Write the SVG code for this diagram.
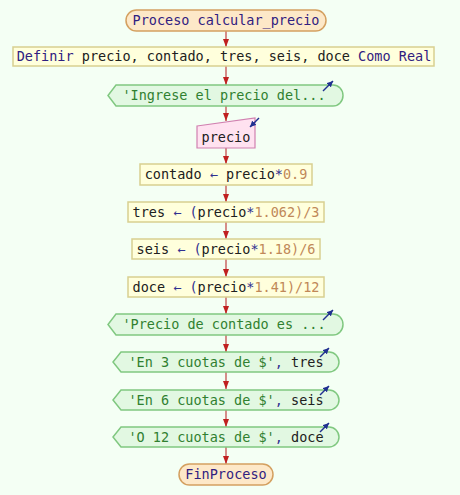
<svg xmlns="http://www.w3.org/2000/svg" width="460" height="495" viewBox="0 0 460 495">
<defs>
<style>
text{font-family:"DejaVu Sans Mono","Liberation Mono",monospace;font-size:13.5px;text-anchor:middle;fill:#202020}
.term{fill:#fde8c8;stroke:#d4a060;stroke-width:1.5}
.proc{fill:#ffffdc;stroke:#d8d090;stroke-width:1.5}
.out{fill:#e2f8e2;stroke:#80c880;stroke-width:1.5}
.inp{fill:#ffe2f0;stroke:#d080b0;stroke-width:1.2}
.kw{fill:#302080}
.op{fill:#303090}
.num{fill:#c08858}
.str{fill:#308030}
.conn{stroke:#c04040;stroke-width:1.2;fill:none}
.io{stroke:#203090;stroke-width:1.5;fill:none}
</style>
<marker id="ah" viewBox="0 0 8 6" refX="8" refY="3" markerWidth="8" markerHeight="6" markerUnits="userSpaceOnUse" orient="auto"><path d="M0,0 L8,3 L0,6 Z" fill="#c02020"/></marker>
<marker id="ib" viewBox="0 0 6 6" refX="6" refY="3" markerWidth="6" markerHeight="6" markerUnits="userSpaceOnUse" orient="auto"><path d="M0,0 L6,3 L0,6 Z" fill="#203090"/></marker>
</defs>
<rect width="460" height="495" fill="#f4fff4"/>
<g id="connectors">
<line class="conn" x1="226" y1="31" x2="226" y2="47" marker-end="url(#ah)"/>
<line class="conn" x1="226" y1="66" x2="226" y2="85" marker-end="url(#ah)"/>
<line class="conn" x1="226" y1="106" x2="226" y2="121" marker-end="url(#ah)"/>
<line class="conn" x1="226" y1="148" x2="226" y2="164" marker-end="url(#ah)"/>
<line class="conn" x1="226" y1="185" x2="226" y2="202" marker-end="url(#ah)"/>
<line class="conn" x1="226" y1="222" x2="226" y2="239" marker-end="url(#ah)"/>
<line class="conn" x1="226" y1="259" x2="226" y2="277" marker-end="url(#ah)"/>
<line class="conn" x1="226" y1="297" x2="226" y2="314" marker-end="url(#ah)"/>
<line class="conn" x1="226" y1="335" x2="226" y2="352" marker-end="url(#ah)"/>
<line class="conn" x1="226" y1="372" x2="226" y2="389" marker-end="url(#ah)"/>
<line class="conn" x1="226" y1="410" x2="226" y2="427" marker-end="url(#ah)"/>
<line class="conn" x1="226" y1="447" x2="226" y2="464" marker-end="url(#ah)"/>
</g>
<g id="n1">
<rect class="term" x="126" y="10" width="200" height="21" rx="10.5"/>
<text x="226" y="25"><tspan class="kw">Proceso calcular_precio</tspan></text>
</g>
<g id="n2">
<rect class="proc" x="13" y="47" width="421" height="19"/>
<text x="224" y="61"><tspan class="kw">Definir</tspan> precio, contado, tres, seis, doce <tspan class="kw">Como Real</tspan></text>
</g>
<g id="n3">
<path class="out" d="M116,85 H333 A10,10.5 0 0 1 333,106 H116 L108,95.5 Z"/>
<text x="224" y="100"><tspan class="str">'Ingrese el precio del...</tspan></text>
<line class="io" x1="323" y1="91" x2="333" y2="81" marker-end="url(#ib)"/>
</g>
<g id="n4">
<path class="inp" d="M197,126 L255,118 V148 H197 Z"/>
<text x="226" y="142">precio</text>
<line class="io" x1="259" y1="118" x2="250" y2="127" marker-end="url(#ib)"/>
</g>
<g id="n5">
<rect class="proc" x="140" y="164" width="172" height="21"/>
<text x="226" y="179">contado <tspan class="op">←</tspan> precio<tspan class="op">*</tspan><tspan class="num">0.9</tspan></text>
</g>
<g id="n6">
<rect class="proc" x="128" y="202" width="196" height="20"/>
<text x="226" y="216.5">tres <tspan class="op">← (</tspan>precio<tspan class="op">*</tspan><tspan class="num">1.062)/3</tspan></text>
</g>
<g id="n7">
<rect class="proc" x="132" y="239" width="188" height="20"/>
<text x="226" y="253.5">seis <tspan class="op">← (</tspan>precio<tspan class="op">*</tspan><tspan class="num">1.18)/6</tspan></text>
</g>
<g id="n8">
<rect class="proc" x="128" y="277" width="196" height="20"/>
<text x="226" y="291.5">doce <tspan class="op">← (</tspan>precio<tspan class="op">*</tspan><tspan class="num">1.41)/12</tspan></text>
</g>
<g id="n9">
<path class="out" d="M116,314 H333 A10,10.5 0 0 1 333,335 H116 L108,324.5 Z"/>
<text x="224" y="329"><tspan class="str">'Precio de contado es ...</tspan></text>
<line class="io" x1="323" y1="320" x2="333" y2="310" marker-end="url(#ib)"/>
</g>
<g id="n10">
<path class="out" d="M121,352 H329 A10,10 0 0 1 329,372 H121 L113,362 Z"/>
<text x="226" y="366.5"><tspan class="str">'En 3 cuotas de $'</tspan><tspan class="op">,</tspan> tres</text>
<line class="io" x1="320" y1="357" x2="329" y2="348" marker-end="url(#ib)"/>
</g>
<g id="n11">
<path class="out" d="M121,390 H329 A10,10 0 0 1 329,410 H121 L113,400 Z"/>
<text x="226" y="404.5"><tspan class="str">'En 6 cuotas de $'</tspan><tspan class="op">,</tspan> seis</text>
<line class="io" x1="320" y1="395" x2="329" y2="386" marker-end="url(#ib)"/>
</g>
<g id="n12">
<path class="out" d="M121,427 H329 A10,10 0 0 1 329,447 H121 L113,437 Z"/>
<text x="226" y="441.5"><tspan class="str">'O 12 cuotas de $'</tspan><tspan class="op">,</tspan> doce</text>
<line class="io" x1="320" y1="432" x2="329" y2="423" marker-end="url(#ib)"/>
</g>
<g id="n13">
<rect class="term" x="179" y="464" width="94" height="21" rx="10.5"/>
<text x="226" y="479"><tspan class="kw">FinProceso</tspan></text>
</g>
</svg>
